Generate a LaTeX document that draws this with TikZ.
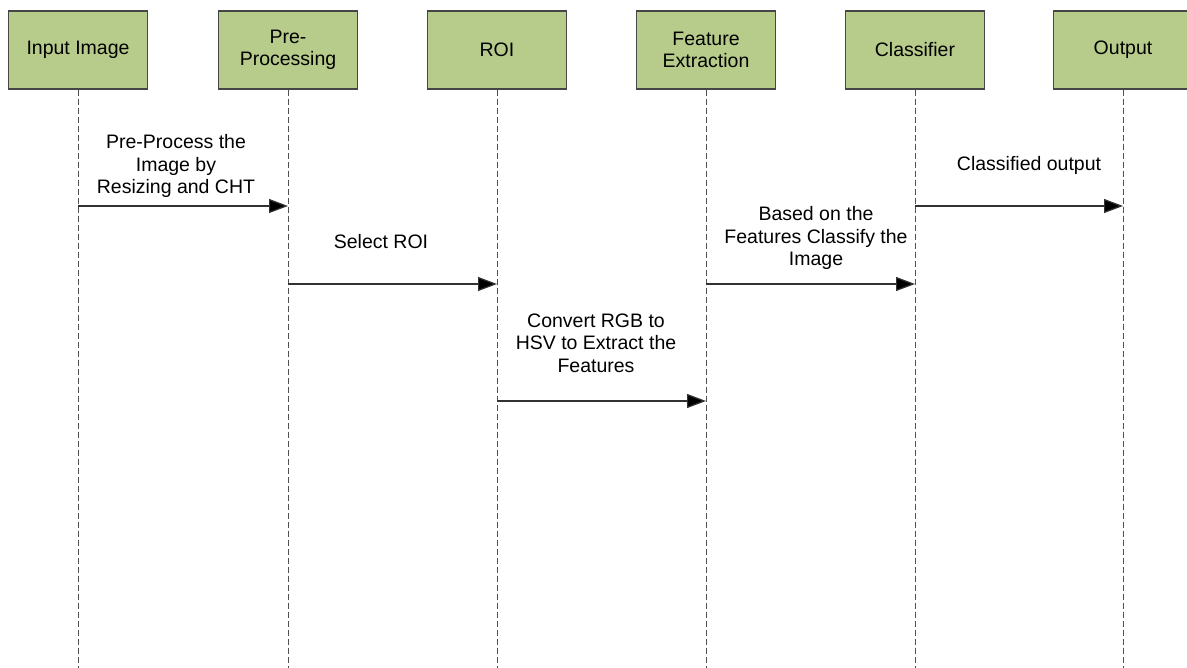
\documentclass[tikz,border=0pt]{standalone}
\usepackage{fontspec}
\setmainfont{Liberation Sans}
\usetikzlibrary{arrows.meta}
\definecolor{boxgreen}{RGB}{183,203,138}
\definecolor{boxedge}{RGB}{70,70,70}
\definecolor{lifegray}{RGB}{80,80,80}
\definecolor{msggray}{RGB}{50,50,50}
\begin{document}
\begin{tikzpicture}[x=1pt,y=-1pt,
  actor/.style={draw=boxedge,line width=1.3pt,fill=boxgreen,minimum width=139pt,minimum height=78pt,inner sep=0pt,align=center,font=\fontsize{19.5}{22.5}\selectfont},
  lifeline/.style={draw=lifegray,line width=1pt,dash pattern=on 6pt off 3pt},
  msg/.style={draw=msggray,line width=1.2pt,-{Triangle[length=19pt,width=14pt,fill=black]}},
  lbl/.style={align=center,font=\fontsize{19.5}{22.5}\selectfont,inner sep=0pt}]
\useasboundingbox (0,0) rectangle (1187,668);
\clip (0,0) rectangle (1187,668);
% lifeline bottoms
\coordinate (b1) at (78,668);
\coordinate (b2) at (288,668);
\coordinate (b3) at (497,668);
\coordinate (b4) at (706,668);
\coordinate (b5) at (915,668);
\coordinate (b6) at (1123,668);
\node[actor] (a1) at (78,50) {Input Image};
\node[actor] (a2) at (288,50) {Pre-\\Processing};
\node[actor] (a3) at (497,50) {ROI};
\node[actor] (a4) at (706,50) {Feature\\Extraction};
\node[actor] (a5) at (915,50) {Classifier};
\node[actor] (a6) at (1123,50) {Output};
\foreach \i in {1,...,6}{\draw[lifeline] (a\i.south) -- (b\i);}
% message anchors
\coordinate (m1s) at (78,206);  \coordinate (m1e) at (288,206);
\coordinate (m2s) at (288,284); \coordinate (m2e) at (497,284);
\coordinate (m3s) at (497,401); \coordinate (m3e) at (706,401);
\coordinate (m4s) at (706,284); \coordinate (m4e) at (915,284);
\coordinate (m5s) at (915,206); \coordinate (m5e) at (1123,206);
\draw[msg] (m1s) -- (m1e);
\draw[msg] (m2s) -- (m2e);
\draw[msg] (m3s) -- (m3e);
\draw[msg] (m4s) -- (m4e);
\draw[msg] (m5s) -- (m5e);
% labels
\node[lbl] (l1) at (176,166) {Pre-Process the\\Image by\\Resizing and CHT};
\node[lbl] (l2) at (381,242) {Select ROI};
\node[lbl] (l3) at (596,343) {Convert RGB to\\HSV to Extract the\\Features};
\node[lbl] (l4) at (816,238) {Based on the\\Features Classify the\\Image};
\node[lbl] (l5) at (1029,165) {Classified output};
\end{tikzpicture}
\end{document}
